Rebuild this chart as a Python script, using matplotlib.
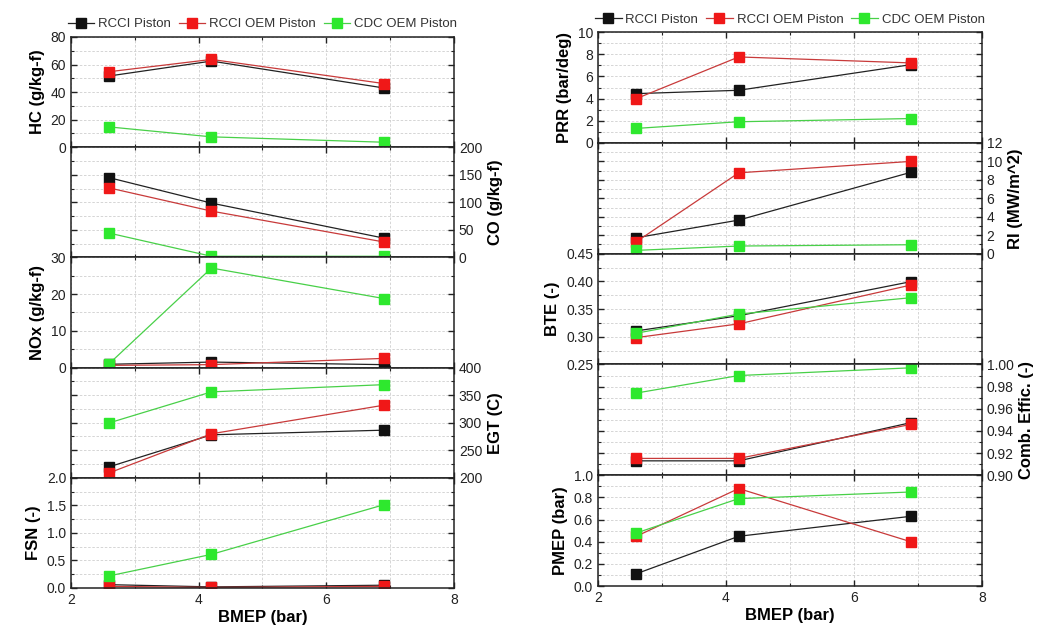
import numpy as np
import matplotlib.pyplot as plt
from matplotlib.ticker import MultipleLocator, FormatStrFormatter

plt.rcParams['font.family'] = ['Liberation Sans', 'DejaVu Sans']

bmep = [2.6, 4.2, 6.9]
series = ['RCCI Piston', 'RCCI OEM Piston', 'CDC OEM Piston']

# left column
hc_rcci = [51.7, 62.5, 43.0]
hc_oem = [54.8, 63.7, 46.2]
hc_cdc = [14.7, 7.5, 3.6]

co_rcci = [144.6, 98.5, 35.0]
co_oem = [126.0, 84.0, 28.0]
co_cdc = [44.0, 2.0, 2.0]

nox_rcci = [0.9, 1.5, 0.8]
nox_oem = [0.6, 0.8, 2.5]
nox_cdc = [1.1, 27.1, 18.8]

egt_rcci = [220.0, 278.0, 286.4]
egt_oem = [209.0, 279.8, 331.7]
egt_cdc = [299.7, 355.9, 369.0]

fsn_rcci = [0.06, 0.02, 0.05]
fsn_oem = [0.03, 0.01, 0.03]
fsn_cdc = [0.22, 0.61, 1.51]

# right column
prr_rcci = [4.45, 4.75, 7.07]
prr_oem = [4.0, 7.76, 7.22]
prr_cdc = [1.31, 1.91, 2.2]

ri_rcci = [1.73, 3.64, 8.83]
ri_oem = [1.3, 8.76, 10.0]
ri_cdc = [0.36, 0.83, 0.97]

bte_rcci = [0.3106, 0.338, 0.3997]
bte_oem = [0.2985, 0.3233, 0.3936]
bte_cdc = [0.3064, 0.341, 0.3706]

ce_rcci = [0.913, 0.913, 0.9476]
ce_oem = [0.9152, 0.9152, 0.946]
ce_cdc = [0.9742, 0.990, 0.997]

pmep_rcci = [0.111, 0.449, 0.63]
pmep_oem = [0.449, 0.88, 0.398]
pmep_cdc = [0.479, 0.789, 0.849]

mk_colors = ['#111111', '#f01818', '#2ee82e']
ln_colors = ['#222222', '#c83a3a', '#48d048']


def panel(ax, data, label, ylim, major, minor, fmt, side):
  for vals, mc, lc, name in zip(data, mk_colors, ln_colors, series):
    ax.plot(bmep, vals, color=lc, lw=0.9, marker='s', ms=6.5,
            markerfacecolor=mc, markeredgecolor=mc, label=name)
  ax.set_ylim(*ylim)
  ax.set_xlim(2, 8)
  ax.yaxis.set_major_locator(MultipleLocator(major))
  ax.yaxis.set_minor_locator(MultipleLocator(minor))
  ax.yaxis.set_major_formatter(FormatStrFormatter(fmt))
  ax.xaxis.set_major_locator(MultipleLocator(2))
  ax.xaxis.set_minor_locator(MultipleLocator(1))
  ax.grid(True, which='both', color='#cfcfcf', ls=(0, (3, 2)), lw=0.6)
  ax.set_axisbelow(True)
  ax.tick_params(which='both', direction='in', top=True, bottom=True,
                 left=True, right=True, labelsize=10, colors='#222222')
  ax.tick_params(which='major', length=4.5, width=1)
  ax.tick_params(which='minor', length=2.5, width=0.8)
  if side == 'right':
    ax.tick_params(labelleft=False, labelright=True)
    ax.yaxis.set_label_position('right')
  ax.set_ylabel(label, fontsize=12, fontweight='bold')
  for s in ax.spines.values():
    s.set_linewidth(1.1)
    s.set_color('#222222')


fig = plt.figure(figsize=(10.4, 6.3), dpi=100)

gl = fig.add_gridspec(5, 1, left=0.0683, right=0.4365, top=0.9413, bottom=0.0667, hspace=0)
gr = fig.add_gridspec(5, 1, left=0.575, right=0.944, top=0.949, bottom=0.0698, hspace=0)

left_specs = [
  ((hc_rcci, hc_oem, hc_cdc), 'HC (g/kg-f)', (0, 80), 20, 10, '%d', 'left'),
  ((co_rcci, co_oem, co_cdc), 'CO (g/kg-f)', (0, 200), 50, 25, '%d', 'right'),
  ((nox_rcci, nox_oem, nox_cdc), 'NOx (g/kg-f)', (0, 30), 10, 5, '%d', 'left'),
  ((egt_rcci, egt_oem, egt_cdc), 'EGT (C)', (200, 400), 50, 25, '%d', 'right'),
  ((fsn_rcci, fsn_oem, fsn_cdc), 'FSN (-)', (0, 2.0), 0.5, 0.25, '%.1f', 'left'),
]
right_specs = [
  ((prr_rcci, prr_oem, prr_cdc), 'PRR (bar/deg)', (0, 10), 2, 1, '%d', 'left'),
  ((ri_rcci, ri_oem, ri_cdc), 'RI (MW/m^2)', (0, 12), 2, 1, '%d', 'right'),
  ((bte_rcci, bte_oem, bte_cdc), 'BTE (-)', (0.25, 0.45), 0.05, 0.025, '%.2f', 'left'),
  ((ce_rcci, ce_oem, ce_cdc), 'Comb. Effic. (-)', (0.90, 1.00), 0.02, 0.01, '%.2f', 'right'),
  ((pmep_rcci, pmep_oem, pmep_cdc), 'PMEP (bar)', (0, 1.0), 0.2, 0.1, '%.1f', 'left'),
]

for gs, specs in [(gl, left_specs), (gr, right_specs)]:
  axes = []
  for i, spec in enumerate(specs):
    ax = fig.add_subplot(gs[i, 0], sharex=axes[0] if axes else None)
    panel(ax, *spec)
    if i < 4:
      ax.tick_params(labelbottom=False)
    axes.append(ax)
  axes[-1].set_xlabel('BMEP (bar)', fontsize=12, fontweight='bold', labelpad=2)
  axes[0].legend(loc='lower center', bbox_to_anchor=(0.5, 1.0), ncol=3, frameon=False,
                 fontsize=9.5, handlelength=2.0, handletextpad=0.3, columnspacing=0.6,
                 borderaxespad=0.1, labelcolor='#333333')

fig.savefig('out.png', dpi=100)
